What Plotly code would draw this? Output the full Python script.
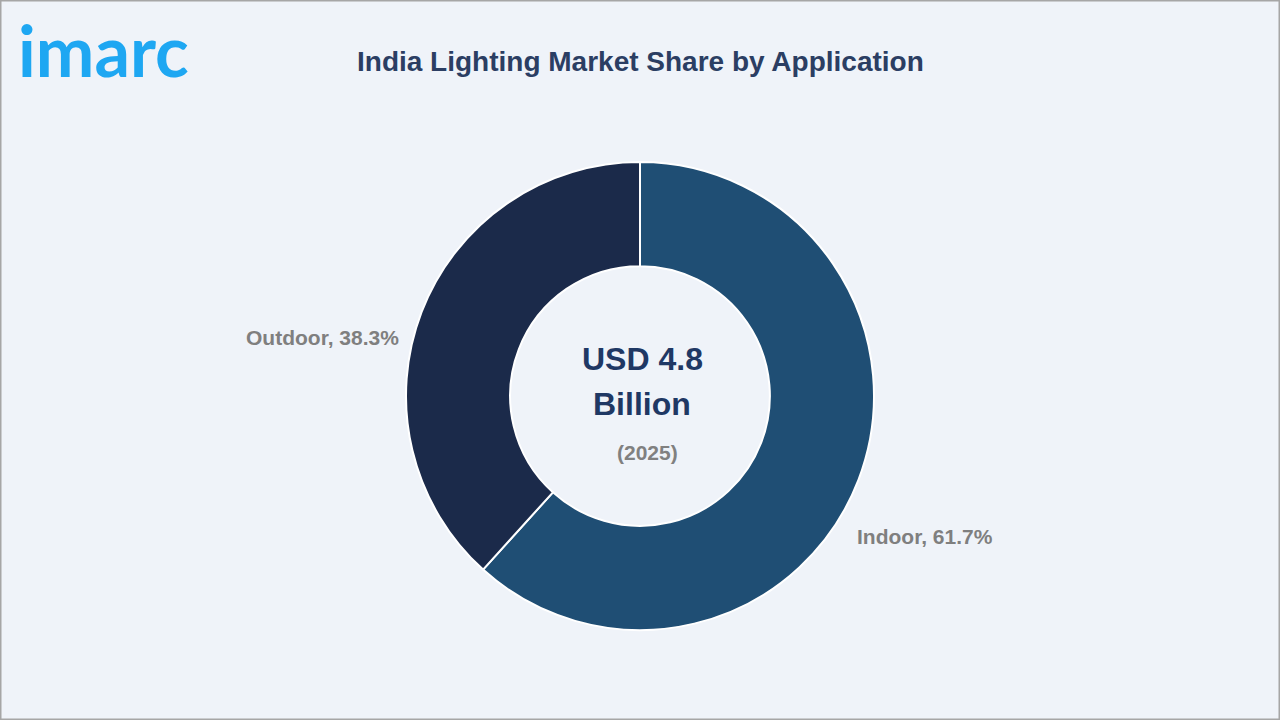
import plotly.graph_objects as go

categories = ["Indoor", "Outdoor"]
shares = [61.7, 38.3]
colors = ["#1f4e74", "#1b2a4a"]
title_text = "India Lighting Market Share by Application"
center_value_1 = "USD 4.8"
center_value_2 = "Billion"
center_year = "(2025)"

W, H = 1280, 720
cx, cy, R = 640, 396, 234

fig = go.Figure()
fig.add_trace(go.Pie(
    labels=categories,
    values=shares,
    hole=0.555,
    sort=False,
    direction="clockwise",
    rotation=0,
    marker=dict(colors=colors, line=dict(color="#ffffff", width=2)),
    textinfo="none",
    hoverinfo="label+percent",
    showlegend=False,
    domain=dict(x=[(cx - R) / W, (cx + R) / W], y=[1 - (cy + R) / H, 1 - (cy - R) / H]),
))

font_main = "Liberation Sans, Arial, sans-serif"

def add(x, y, text, size, color, anchor="center", family=font_main):
    return dict(x=x / W, y=1 - y / H, xref="paper", yref="paper", text=text,
                showarrow=False, font=dict(family=family, size=size, color=color),
                xanchor=anchor, yanchor="middle")

ann = [
    add(640, 61, "<b>" + title_text + "</b>", 28, "#2b3e63"),
    add(16, 50, "<b>imarc</b>", 70, "#1ea7f2", anchor="left", family="Lato, sans-serif"),
    add(642, 359, "<b>" + center_value_1 + "</b>", 32, "#1f3864"),
    add(642, 404, "<b>" + center_value_2 + "</b>", 32, "#1f3864"),
    add(647, 452, "<b>" + center_year + "</b>", 21, "#808080"),
]
label_pos = {"Indoor": (855, 536, "left"), "Outdoor": (401, 337, "right")}
for c, s in zip(categories, shares):
    x, y, anchor = label_pos[c]
    ann.append(add(x, y, "<b>%s, %.1f%%</b>" % (c, s), 21, "#7f7f7f", anchor=anchor))

fig.update_layout(
    width=W, height=H,
    margin=dict(l=0, r=0, t=0, b=0),
    paper_bgcolor="#eff3f9",
    plot_bgcolor="#eff3f9",
    annotations=ann,
    shapes=[dict(type="rect", xref="paper", yref="paper", x0=0, y0=0, x1=1, y1=1,
                 line=dict(color="#a6a6a6", width=3), fillcolor="rgba(0,0,0,0)")],
)

fig.write_html("out.html", config={"displayModeBar": False})
